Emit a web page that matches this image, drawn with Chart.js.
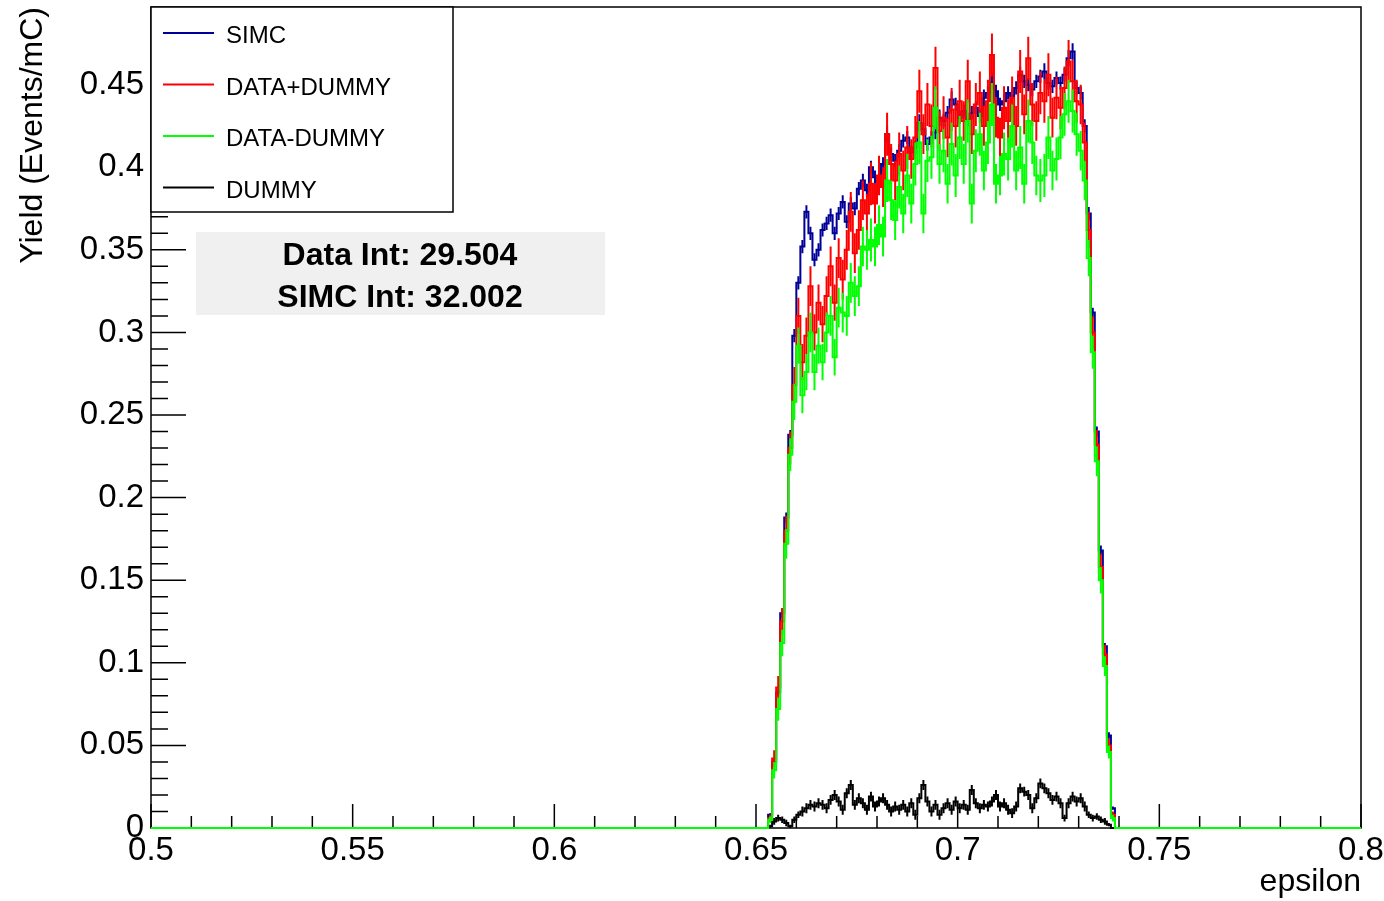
<!DOCTYPE html>
<html>
<head>
<meta charset="utf-8">
<title>Yield vs epsilon</title>
<script src="https://cdn.jsdelivr.net/npm/chart.js@4.4.1/dist/chart.umd.min.js"></script>
<style>
  html, body { margin: 0; padding: 0; background: #fff; }
  #wrap { width: 1384px; height: 901px; }
</style>
</head>
<body>
<div id="wrap"><canvas id="yield-chart" width="1384" height="901"></canvas></div>
<script>
// histogram binning (low edge of first filled bin, bin width)
const binStart = 0.653;
const binWidth = 0.001;

const simc = [
  0.008, 0.040, 0.082, 0.130, 0.188, 0.238, 0.298, 0.330, 0.352, 0.373,
  0.360, 0.344, 0.350, 0.362, 0.366, 0.371, 0.360, 0.372, 0.379, 0.367,
  0.378, 0.375, 0.387, 0.392, 0.386, 0.400, 0.394, 0.389, 0.402, 0.420,
  0.408, 0.404, 0.410, 0.416, 0.418, 0.409, 0.412, 0.427, 0.423, 0.414,
  0.418, 0.421, 0.430, 0.428, 0.433, 0.441, 0.438, 0.430, 0.434, 0.429,
  0.433, 0.436, 0.431, 0.442, 0.445, 0.452, 0.446, 0.438, 0.440, 0.445,
  0.443, 0.448, 0.456, 0.452, 0.450, 0.447, 0.452, 0.455, 0.458, 0.451,
  0.449, 0.454, 0.451, 0.456, 0.466, 0.470, 0.448, 0.445, 0.425, 0.372,
  0.312, 0.240, 0.168, 0.110, 0.056, 0.012
];

const dataPlusDummy = [
  0.006, 0.042, 0.085, 0.125, 0.180, 0.230, 0.268, 0.310, 0.282, 0.298,
  0.328, 0.300, 0.318, 0.305, 0.322, 0.340, 0.318, 0.345, 0.332, 0.350,
  0.373, 0.348, 0.362, 0.380, 0.372, 0.390, 0.378, 0.395, 0.388, 0.420,
  0.402, 0.392, 0.408, 0.398, 0.412, 0.405, 0.418, 0.446, 0.420, 0.438,
  0.425, 0.460, 0.422, 0.430, 0.418, 0.435, 0.425, 0.440, 0.428, 0.452,
  0.420, 0.438, 0.445, 0.425, 0.440, 0.468, 0.430, 0.418, 0.436, 0.428,
  0.442, 0.425, 0.458, 0.432, 0.466, 0.438, 0.428, 0.445, 0.440, 0.456,
  0.430, 0.442, 0.436, 0.448, 0.464, 0.452, 0.440, 0.438, 0.415, 0.362,
  0.300, 0.232, 0.158, 0.105, 0.050, 0.008
];

const dataMinusDummy = [
  0.005, 0.035, 0.072, 0.112, 0.172, 0.226, 0.258, 0.292, 0.262, 0.276,
  0.300, 0.276, 0.292, 0.282, 0.300, 0.310, 0.285, 0.315, 0.312, 0.310,
  0.330, 0.322, 0.328, 0.352, 0.350, 0.356, 0.352, 0.365, 0.358, 0.392,
  0.380, 0.368, 0.388, 0.372, 0.395, 0.378, 0.402, 0.415, 0.372, 0.404,
  0.406, 0.436, 0.402, 0.410, 0.390, 0.414, 0.395, 0.418, 0.402, 0.428,
  0.378, 0.410, 0.420, 0.398, 0.415, 0.438, 0.390, 0.395, 0.408, 0.405,
  0.425, 0.398, 0.412, 0.390, 0.428, 0.415, 0.395, 0.392, 0.395, 0.418,
  0.398, 0.405, 0.418, 0.432, 0.440, 0.434, 0.420, 0.410, 0.392, 0.345,
  0.288, 0.222, 0.150, 0.098, 0.046, 0.006
];

const dummy = [
  0.001, 0.004, 0.006, 0.005, 0.003, 0.001, 0.005, 0.008, 0.010, 0.012,
  0.014, 0.013, 0.015, 0.014, 0.012, 0.017, 0.020, 0.016, 0.011, 0.021,
  0.026, 0.014, 0.018, 0.015, 0.011, 0.019, 0.013, 0.016, 0.018, 0.014,
  0.010, 0.013, 0.011, 0.014, 0.010, 0.015, 0.008, 0.018, 0.026, 0.016,
  0.010, 0.014, 0.008, 0.012, 0.015, 0.011, 0.016, 0.012, 0.014, 0.011,
  0.023, 0.015, 0.012, 0.014, 0.013, 0.016, 0.020, 0.013, 0.015, 0.011,
  0.009, 0.013, 0.024, 0.022, 0.020, 0.012, 0.018, 0.027, 0.024, 0.021,
  0.017, 0.019, 0.015, 0.006, 0.015, 0.019, 0.016, 0.018, 0.013, 0.008,
  0.006, 0.007, 0.005, 0.004, 0.002, 0.000
];

// bin errors (half length of the vertical error bars)
const simcErr = [
  0.001, 0.002, 0.002, 0.003, 0.003, 0.003, 0.004, 0.004, 0.004, 0.004,
  0.004, 0.004, 0.004, 0.004, 0.004, 0.004, 0.004, 0.004, 0.004, 0.004,
  0.004, 0.004, 0.004, 0.004, 0.004, 0.004, 0.004, 0.004, 0.004, 0.005,
  0.004, 0.004, 0.004, 0.004, 0.004, 0.004, 0.004, 0.005, 0.004, 0.004,
  0.004, 0.004, 0.005, 0.004, 0.004, 0.005, 0.004, 0.004, 0.004, 0.004,
  0.004, 0.004, 0.004, 0.005, 0.004, 0.005, 0.004, 0.004, 0.004, 0.004,
  0.004, 0.004, 0.005, 0.004, 0.004, 0.004, 0.004, 0.004, 0.005, 0.004,
  0.004, 0.004, 0.004, 0.004, 0.005, 0.005, 0.004, 0.004, 0.004, 0.004,
  0.003, 0.003, 0.003, 0.002, 0.002, 0.001
];

const dataErr = [
  0.002, 0.005, 0.007, 0.008, 0.009, 0.010, 0.011, 0.011, 0.011, 0.011,
  0.012, 0.011, 0.011, 0.011, 0.012, 0.012, 0.011, 0.012, 0.012, 0.012,
  0.012, 0.012, 0.012, 0.012, 0.012, 0.013, 0.012, 0.012, 0.012, 0.013,
  0.012, 0.012, 0.013, 0.012, 0.013, 0.012, 0.013, 0.013, 0.012, 0.013,
  0.013, 0.013, 0.012, 0.013, 0.012, 0.013, 0.013, 0.013, 0.012, 0.013,
  0.012, 0.013, 0.013, 0.012, 0.013, 0.013, 0.012, 0.012, 0.013, 0.013,
  0.013, 0.012, 0.013, 0.012, 0.013, 0.013, 0.012, 0.013, 0.013, 0.013,
  0.012, 0.013, 0.013, 0.013, 0.013, 0.013, 0.013, 0.012, 0.012, 0.011,
  0.010, 0.009, 0.008, 0.006, 0.004, 0.002
];

const dummyErr = [
  0.001, 0.002, 0.002, 0.002, 0.002, 0.001, 0.002, 0.002, 0.003, 0.003,
  0.003, 0.003, 0.003, 0.003, 0.003, 0.003, 0.003, 0.003, 0.003, 0.003,
  0.003, 0.003, 0.003, 0.003, 0.003, 0.003, 0.003, 0.003, 0.003, 0.003,
  0.003, 0.003, 0.003, 0.003, 0.003, 0.003, 0.003, 0.003, 0.003, 0.003,
  0.003, 0.003, 0.003, 0.003, 0.003, 0.003, 0.003, 0.003, 0.003, 0.003,
  0.003, 0.003, 0.003, 0.003, 0.003, 0.003, 0.003, 0.003, 0.003, 0.003,
  0.003, 0.003, 0.003, 0.003, 0.003, 0.003, 0.003, 0.003, 0.003, 0.003,
  0.003, 0.003, 0.003, 0.002, 0.003, 0.003, 0.003, 0.003, 0.003, 0.002,
  0.002, 0.002, 0.002, 0.002, 0.001, 0.000
];

const xTicks = [0.5, 0.55, 0.6, 0.65, 0.7, 0.75, 0.8];
const yTicks = [0, 0.05, 0.1, 0.15, 0.2, 0.25, 0.3, 0.35, 0.4, 0.45];
const seriesNames = ['SIMC', 'DATA+DUMMY', 'DATA-DUMMY', 'DUMMY'];
const seriesColors = ['#000099', '#ff0000', '#00ff00', '#000000'];
const statLines = ['Data Int: 29.504', 'SIMC Int: 32.002'];

const seriesValues = [simc, dataPlusDummy, dataMinusDummy, dummy];
const seriesErrors = [simcErr, dataErr, dataErr, dummyErr];

const FONT = 'Liberation Sans, Arial, sans-serif';

// turn bin contents into step points along the whole axis
function toSteps(values) {
  const pts = [{ x: 0.5, y: 0 }];
  values.forEach(function (v, i) {
    pts.push({ x: binStart + i * binWidth, y: v });
  });
  pts.push({ x: binStart + values.length * binWidth, y: 0 });
  pts.push({ x: 0.8, y: 0 });
  return pts;
}

// frame + inward ticks, ROOT style; error bars; legend and integral box
const framePlugin = {
  id: 'frame',
  beforeDatasetsDraw(chart) {
    const { ctx, chartArea, scales } = chart;
    const { left, right, top, bottom } = chartArea;
    ctx.save();
    ctx.strokeStyle = '#000';
    ctx.lineWidth = 1.5;
    ctx.strokeRect(left, top, right - left, bottom - top);
    ctx.beginPath();
    // y minor every 0.01, major every 0.05
    for (let k = 0; k <= 49; k++) {
      const py = scales.y.getPixelForValue(k * 0.01);
      const len = (k % 5 === 0) ? 35 : 17;
      ctx.moveTo(left, py);
      ctx.lineTo(left + len, py);
    }
    for (let k = 0; k <= 30; k++) {
      const px = scales.x.getPixelForValue(0.5 + k * 0.01);
      const len = (k % 5 === 0) ? 24 : 12;
      ctx.moveTo(px, bottom);
      ctx.lineTo(px, bottom - len);
    }
    ctx.stroke();
    ctx.restore();
  },
  afterDatasetDraw(chart, args) {
    const i = args.index;
    const vals = seriesValues[i];
    const errs = seriesErrors[i];
    const { ctx, scales } = chart;
    ctx.save();
    ctx.strokeStyle = seriesColors[i];
    ctx.lineWidth = 2;
    ctx.beginPath();
    vals.forEach(function (v, k) {
      if (errs[k] <= 0) return;
      const px = scales.x.getPixelForValue(binStart + (k + 0.5) * binWidth);
      ctx.moveTo(px, scales.y.getPixelForValue(Math.max(0, v - errs[k])));
      ctx.lineTo(px, scales.y.getPixelForValue(v + errs[k]));
    });
    ctx.stroke();
    ctx.restore();
  },
  afterDatasetsDraw(chart) {
    const { ctx, chartArea } = chart;
    const left = chartArea.left;
    const top = chartArea.top;
    ctx.save();
    // legend box
    ctx.fillStyle = '#fff';
    ctx.fillRect(left, top, 302, 205);
    ctx.strokeStyle = '#000';
    ctx.lineWidth = 1.5;
    ctx.strokeRect(left, top, 302, 205);
    ctx.font = '24px ' + FONT;
    ctx.textBaseline = 'alphabetic';
    ctx.textAlign = 'left';
    seriesNames.forEach(function (name, i) {
      const ly = top + 26 + i * 51.5;
      ctx.strokeStyle = seriesColors[i];
      ctx.lineWidth = 2;
      ctx.beginPath();
      ctx.moveTo(left + 12, ly);
      ctx.lineTo(left + 63, ly);
      ctx.stroke();
      ctx.fillStyle = '#000';
      ctx.fillText(name, left + 75, ly + 10);
    });
    // integral box
    ctx.fillStyle = '#f0f0f0';
    ctx.fillRect(196, 232, 409, 83);
    ctx.fillStyle = '#000';
    ctx.font = 'bold 32px ' + FONT;
    ctx.textAlign = 'center';
    ctx.fillText(statLines[0], 400, 265);
    ctx.fillText(statLines[1], 400, 307);
    ctx.restore();
  }
};

window.addEventListener('DOMContentLoaded', function () {
  const canvas = document.getElementById('yield-chart');
  const ctx = canvas.getContext('2d');
  const drawOrder = [2, 1, 0, 3];

  window.yieldChart = new Chart(ctx, {
    type: 'line',
    data: {
      datasets: seriesNames.map(function (name, i) {
        return {
          label: name,
          data: toSteps(seriesValues[i]),
          borderColor: seriesColors[i],
          borderWidth: 2,
          stepped: 'before',
          pointRadius: 0,
          fill: false,
          clip: 3,
          order: drawOrder[i]
        };
      })
    },
    options: {
      responsive: false,
      animation: false,
      devicePixelRatio: 1,
      layout: { padding: { top: 7, right: 23, left: 0, bottom: 0 } },
      plugins: {
        legend: { display: false },
        tooltip: { enabled: false }
      },
      scales: {
        x: {
          type: 'linear',
          min: 0.5,
          max: 0.8,
          afterFit: function (s) { s.height = 73; s.paddingLeft = 0; s.paddingRight = 0; },
          afterBuildTicks: function (s) { s.ticks = xTicks.map(function (v) { return { value: v }; }); },
          grid: { display: false, drawTicks: false },
          border: { display: false },
          ticks: {
            color: '#000',
            font: { family: FONT, size: 33 },
            padding: 3,
            maxRotation: 0,
            autoSkip: false,
            callback: function (v) { return String(+v.toFixed(2)); }
          },
          title: {
            display: true,
            text: 'epsilon',
            align: 'end',
            color: '#000',
            font: { family: FONT, size: 32 },
            padding: { top: 0, bottom: 0 }
          }
        },
        y: {
          type: 'linear',
          min: 0,
          max: 0.497,
          afterFit: function (s) { s.width = 151; s.paddingTop = 0; s.paddingBottom = 0; },
          afterBuildTicks: function (s) { s.ticks = yTicks.map(function (v) { return { value: v }; }); },
          grid: { display: false, drawTicks: false },
          border: { display: false },
          ticks: {
            color: '#000',
            font: { family: FONT, size: 33 },
            padding: 7,
            callback: function (v) { return String(+v.toFixed(2)); }
          },
          title: {
            display: true,
            text: 'Yield (Events/mC)',
            align: 'end',
            color: '#000',
            font: { family: FONT, size: 32 },
            padding: { top: 14, bottom: 0 }
          }
        }
      }
    },
    plugins: [framePlugin]
  });
});
</script>
</body>
</html>
